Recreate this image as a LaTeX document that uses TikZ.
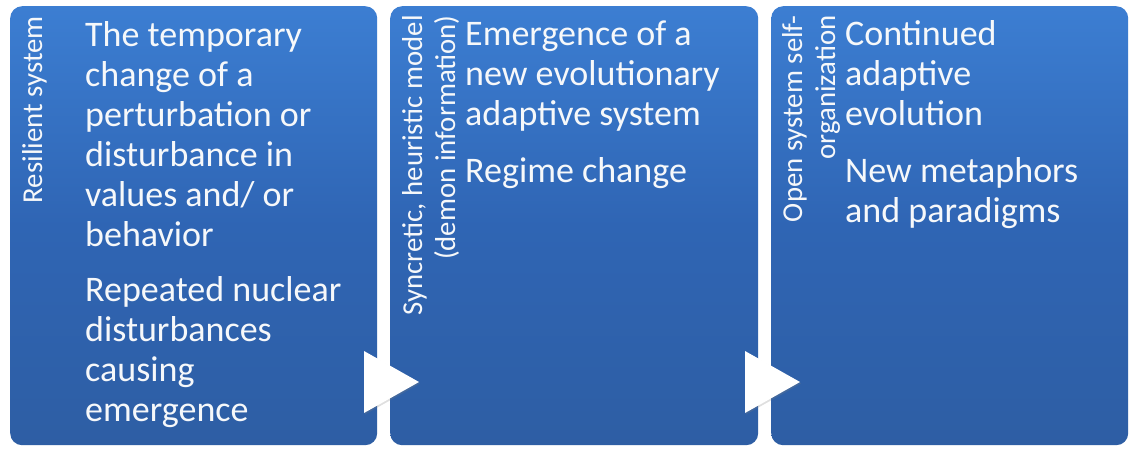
\documentclass[tikz,border=0pt]{standalone}
\usepackage{fontspec}
\setmainfont{Carlito}
\usetikzlibrary{calc,shadows}
\definecolor{boxtop}{RGB}{60,126,210}
\definecolor{boxmid}{RGB}{47,101,180}
\definecolor{boxbot}{RGB}{46,94,164}
\definecolor{txt}{RGB}{246,248,250}
\begin{document}
\begin{tikzpicture}[x=1pt,y=1pt,
  panel/.style={rectangle, rounded corners=12pt, top color=boxtop, bottom color=boxbot, middle color=boxmid,
    minimum height=439pt, anchor=north west, inner sep=0pt, draw=none},
  maintext/.style={anchor=base west, inner sep=0pt, text=txt, font=\fontsize{36}{40}\selectfont},
  vlabel/.style={rotate=90, anchor=base east, inner sep=0pt, text=txt, font=\fontsize{28.8}{33}\selectfont},
  tri/.style={fill=white, drop shadow={opacity=0.25, shadow xshift=1pt, shadow yshift=-1.5pt}}
]
\useasboundingbox[fill=white] (0,0) rectangle (1130,-448);

% panels
\node[panel, minimum width=367pt] (b1) at (10,-6) {};
\node[panel, minimum width=368pt] (b2) at (390,-6) {};
\node[panel, minimum width=357pt] (b3) at (771,-6) {};

% vertical labels
\node[vlabel] (v1) at (42,-16) {\begin{tabular}[t]{@{}r@{}}Resilient system\end{tabular}};
\node[vlabel] (v2) at (422,-15) {\begin{tabular}[t]{@{}r@{}}Syncretic, heuristic model\\(demon information)\end{tabular}};
\node[vlabel] (v3) at (802,-15) {\begin{tabular}[t]{@{}r@{}}Open system self-\\organization\end{tabular}};

% main texts
\node[maintext] (m1) at (85,-46) {\parbox[t]{290pt}{\raggedright
  The temporary\\change of a\\perturbation or\\disturbance in\\values and/ or\\behavior\\[15pt]
  Repeated nuclear\\disturbances\\causing\\emergence}};
\node[maintext] (m2) at (465,-45) {\parbox[t]{290pt}{\raggedright
  Emergence of a\\new evolutionary\\adaptive system\\[17pt]
  Regime change}};
\node[maintext] (m3) at (845,-45) {\parbox[t]{280pt}{\raggedright
  Continued\\adaptive\\evolution\\[17pt]
  New metaphors\\and paradigms}};

% arrow markers between panels
\coordinate (t1) at (419,-382);
\coordinate (t2) at (800,-382);
\fill[tri] (t1) -- ++(-55,31) -- ++(0,-62) -- cycle;
\fill[tri] (t2) -- ++(-55,31) -- ++(0,-62) -- cycle;
\end{tikzpicture}
\end{document}
